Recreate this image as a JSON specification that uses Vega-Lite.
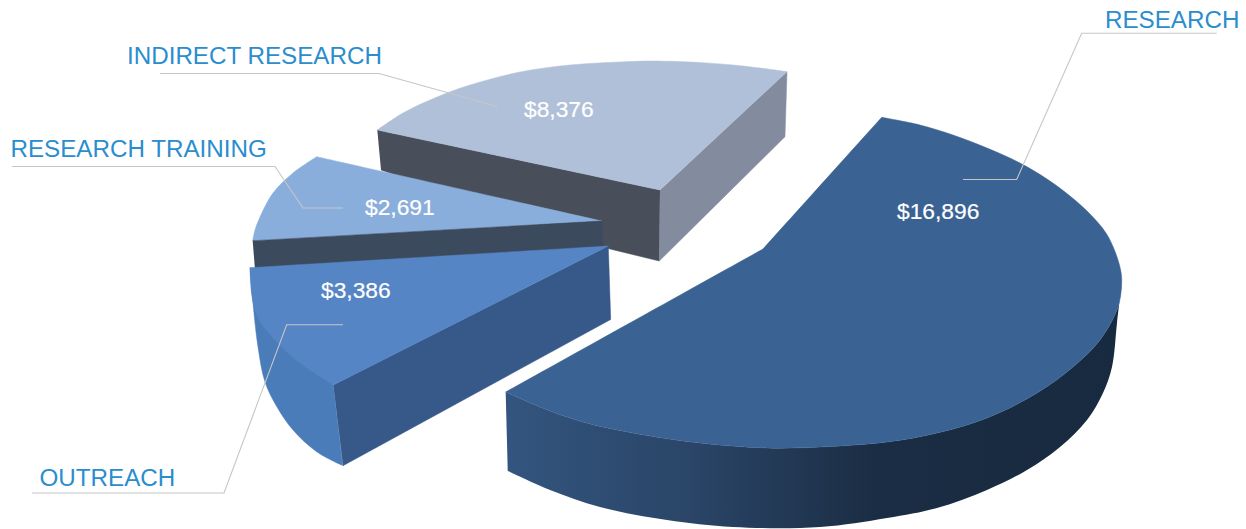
{
"$schema":"https://vega.github.io/schema/vega-lite/v6.json",
"width":1246,"height":529,"padding":0,"autosize":{"type":"fit","contains":"padding"},
"background":"#ffffff","view":{"stroke":null},
"datasets":{
"faces":[
{"face":"indirect-front","i":0,"x":377.3,"y":130},{"face":"indirect-front","i":1,"x":660,"y":190},{"face":"indirect-front","i":2,"x":659.3,"y":261},{"face":"indirect-front","i":3,"x":610,"y":249},{"face":"indirect-front","i":4,"x":381,"y":170},
{"face":"indirect-side","i":0,"x":660,"y":190},{"face":"indirect-side","i":1,"x":787,"y":71.7},{"face":"indirect-side","i":2,"x":785,"y":136.7},{"face":"indirect-side","i":3,"x":659.3,"y":261},
{"face":"indirect-top","i":0,"x":377.3,"y":130},{"face":"indirect-top","i":1,"x":403,"y":113},{"face":"indirect-top","i":2,"x":437,"y":97},{"face":"indirect-top","i":3,"x":470,"y":85},{"face":"indirect-top","i":4,"x":520,"y":72},{"face":"indirect-top","i":5,"x":570,"y":65},{"face":"indirect-top","i":6,"x":620,"y":62},{"face":"indirect-top","i":7,"x":653,"y":61},{"face":"indirect-top","i":8,"x":703,"y":62.7},{"face":"indirect-top","i":9,"x":743,"y":66},{"face":"indirect-top","i":10,"x":787,"y":71.7},{"face":"indirect-top","i":11,"x":787,"y":71.7},{"face":"indirect-top","i":12,"x":660,"y":190},{"face":"indirect-top","i":13,"x":660,"y":190},{"face":"indirect-top","i":14,"x":377.3,"y":130},
{"face":"training-top","i":0,"x":316.7,"y":156.7},{"face":"training-top","i":1,"x":316.7,"y":156.7},{"face":"training-top","i":2,"x":601.7,"y":221},{"face":"training-top","i":3,"x":601.7,"y":221},{"face":"training-top","i":4,"x":252.7,"y":240.7},{"face":"training-top","i":5,"x":252.7,"y":240.7},{"face":"training-top","i":6,"x":255,"y":230},{"face":"training-top","i":7,"x":260,"y":217},{"face":"training-top","i":8,"x":273,"y":193},{"face":"training-top","i":9,"x":293,"y":173},{"face":"training-top","i":10,"x":316.7,"y":156.7},
{"face":"training-front","i":0,"x":252.7,"y":240.7},{"face":"training-front","i":1,"x":601.7,"y":221},{"face":"training-front","i":2,"x":603,"y":249},{"face":"training-front","i":3,"x":255,"y":270},
{"face":"outreach-side","i":0,"x":250,"y":267.7},{"face":"outreach-side","i":1,"x":253,"y":303},{"face":"outreach-side","i":2,"x":258,"y":347},{"face":"outreach-side","i":3,"x":265,"y":382},{"face":"outreach-side","i":4,"x":277,"y":407},{"face":"outreach-side","i":5,"x":293,"y":430},{"face":"outreach-side","i":6,"x":317,"y":452},{"face":"outreach-side","i":7,"x":343,"y":465.7},{"face":"outreach-side","i":8,"x":343,"y":465.7},{"face":"outreach-side","i":9,"x":333.3,"y":385},{"face":"outreach-side","i":10,"x":333.3,"y":385},{"face":"outreach-side","i":11,"x":250,"y":267.7},
{"face":"outreach-front","i":0,"x":333.3,"y":385},{"face":"outreach-front","i":1,"x":608.3,"y":246},{"face":"outreach-front","i":2,"x":610.7,"y":319.5},{"face":"outreach-front","i":3,"x":343,"y":465.7},
{"face":"outreach-top","i":0,"x":250,"y":267.7},{"face":"outreach-top","i":1,"x":250,"y":267.7},{"face":"outreach-top","i":2,"x":608.3,"y":246},{"face":"outreach-top","i":3,"x":608.3,"y":246},{"face":"outreach-top","i":4,"x":333.3,"y":385},{"face":"outreach-top","i":5,"x":333.3,"y":385},{"face":"outreach-top","i":6,"x":307,"y":368},{"face":"outreach-top","i":7,"x":290,"y":355},{"face":"outreach-top","i":8,"x":273,"y":338},{"face":"outreach-top","i":9,"x":258,"y":318},{"face":"outreach-top","i":10,"x":252,"y":296},{"face":"outreach-top","i":11,"x":250,"y":267.7},
{"face":"research-side","i":0,"x":505.7,"y":392},{"face":"research-side","i":1,"x":540,"y":407},{"face":"research-side","i":2,"x":583,"y":422},{"face":"research-side","i":3,"x":633,"y":433},{"face":"research-side","i":4,"x":700,"y":443},{"face":"research-side","i":5,"x":767,"y":448},{"face":"research-side","i":6,"x":820,"y":447},{"face":"research-side","i":7,"x":887,"y":442},{"face":"research-side","i":8,"x":937,"y":433},{"face":"research-side","i":9,"x":987,"y":418},{"face":"research-side","i":10,"x":1037,"y":393},{"face":"research-side","i":11,"x":1073,"y":367},{"face":"research-side","i":12,"x":1100,"y":340},{"face":"research-side","i":13,"x":1118,"y":307},{"face":"research-side","i":14,"x":1121.7,"y":283},{"face":"research-side","i":15,"x":1121.7,"y":283},{"face":"research-side","i":16,"x":1117,"y":323},{"face":"research-side","i":17,"x":1112,"y":367},{"face":"research-side","i":18,"x":1103,"y":393},{"face":"research-side","i":19,"x":1087,"y":420},{"face":"research-side","i":20,"x":1060,"y":447},{"face":"research-side","i":21,"x":1027,"y":470},{"face":"research-side","i":22,"x":987,"y":490},{"face":"research-side","i":23,"x":937,"y":508},{"face":"research-side","i":24,"x":887,"y":518},{"face":"research-side","i":25,"x":820,"y":527},{"face":"research-side","i":26,"x":733,"y":527},{"face":"research-side","i":27,"x":667,"y":520},{"face":"research-side","i":28,"x":600,"y":507},{"face":"research-side","i":29,"x":550,"y":490},{"face":"research-side","i":30,"x":508,"y":471},{"face":"research-side","i":31,"x":508,"y":471},{"face":"research-side","i":32,"x":505.7,"y":392},
{"face":"research-top","i":0,"x":881.7,"y":117.3},{"face":"research-top","i":1,"x":881.7,"y":117.3},{"face":"research-top","i":2,"x":920,"y":125},{"face":"research-top","i":3,"x":953,"y":135},{"face":"research-top","i":4,"x":987,"y":148},{"face":"research-top","i":5,"x":1020,"y":163},{"face":"research-top","i":6,"x":1047,"y":179},{"face":"research-top","i":7,"x":1070,"y":196},{"face":"research-top","i":8,"x":1090,"y":214},{"face":"research-top","i":9,"x":1106,"y":233},{"face":"research-top","i":10,"x":1116,"y":254},{"face":"research-top","i":11,"x":1121,"y":272},{"face":"research-top","i":12,"x":1121.7,"y":283},{"face":"research-top","i":13,"x":1118,"y":307},{"face":"research-top","i":14,"x":1100,"y":340},{"face":"research-top","i":15,"x":1073,"y":367},{"face":"research-top","i":16,"x":1037,"y":393},{"face":"research-top","i":17,"x":987,"y":418},{"face":"research-top","i":18,"x":937,"y":433},{"face":"research-top","i":19,"x":887,"y":442},{"face":"research-top","i":20,"x":820,"y":447},{"face":"research-top","i":21,"x":767,"y":448},{"face":"research-top","i":22,"x":700,"y":443},{"face":"research-top","i":23,"x":633,"y":433},{"face":"research-top","i":24,"x":583,"y":422},{"face":"research-top","i":25,"x":540,"y":407},{"face":"research-top","i":26,"x":505.7,"y":392},{"face":"research-top","i":27,"x":505.7,"y":392},{"face":"research-top","i":28,"x":763,"y":249},{"face":"research-top","i":29,"x":763,"y":249},{"face":"research-top","i":30,"x":881.7,"y":117.3}
],
"leaders":[
{"name":"INDIRECT RESEARCH","i":0,"x":160,"y":73.5},{"name":"INDIRECT RESEARCH","i":1,"x":379,"y":73.5},{"name":"INDIRECT RESEARCH","i":2,"x":498,"y":106.7},
{"name":"RESEARCH TRAINING","i":0,"x":12,"y":166.5},{"name":"RESEARCH TRAINING","i":1,"x":275,"y":166.5},{"name":"RESEARCH TRAINING","i":2,"x":303,"y":208},{"name":"RESEARCH TRAINING","i":3,"x":343,"y":208},
{"name":"OUTREACH","i":0,"x":32,"y":493},{"name":"OUTREACH","i":1,"x":224,"y":493},{"name":"OUTREACH","i":2,"x":286.7,"y":324.7},{"name":"OUTREACH","i":3,"x":343,"y":324.7},
{"name":"RESEARCH","i":0,"x":1216.7,"y":33.3},{"name":"RESEARCH","i":1,"x":1081.7,"y":33.3},{"name":"RESEARCH","i":2,"x":1016.7,"y":179.5},{"name":"RESEARCH","i":3,"x":963,"y":179.5}
],
"slices":[
{"name":"RESEARCH","value":16896,"nameX":1105,"nameY":28,"valueX":897,"valueY":219},
{"name":"INDIRECT RESEARCH","value":8376,"nameX":127,"nameY":64,"valueX":524,"valueY":117},
{"name":"RESEARCH TRAINING","value":2691,"nameX":10.5,"nameY":157,"valueX":365,"valueY":215},
{"name":"OUTREACH","value":3386,"nameX":39.5,"nameY":486,"valueX":321,"valueY":298}
]
},
"data":{"name":"faces"},
"encoding":{
"x":{"field":"x","type":"quantitative","axis":null,"scale":{"domain":[0,1246],"nice":false,"zero":false}},
"y":{"field":"y","type":"quantitative","axis":null,"scale":{"domain":[529,0],"nice":false,"zero":false}},
"order":{"field":"i","type":"quantitative"}
},
"layer":[
{"transform":[{"filter":"datum.face==='indirect-front'"}],"mark":{"type":"line","fill":"#484e5a","stroke":"#484e5a","strokeWidth":0.5}},
{"transform":[{"filter":"datum.face==='indirect-side'"}],"mark":{"type":"line","fill":"#838b9f","stroke":"#838b9f","strokeWidth":0.5}},
{"transform":[{"filter":"datum.face==='indirect-top'"}],"mark":{"type":"line","interpolate":"catmull-rom","fill":"#b1c0d9","stroke":"#b1c0d9","strokeWidth":0.5}},
{"transform":[{"filter":"datum.face==='training-top'"}],"mark":{"type":"line","interpolate":"catmull-rom","fill":"#8aaedb","stroke":"#8aaedb","strokeWidth":0.5}},
{"transform":[{"filter":"datum.face==='training-front'"}],"mark":{"type":"line","fill":"#3c4a5e","stroke":"#3c4a5e","strokeWidth":0.5}},
{"transform":[{"filter":"datum.face==='outreach-side'"}],"mark":{"type":"line","interpolate":"catmull-rom","fill":"#4a7cba","stroke":"#4a7cba","strokeWidth":0.5}},
{"transform":[{"filter":"datum.face==='outreach-front'"}],"mark":{"type":"line","fill":"#37598a","stroke":"#37598a","strokeWidth":0.5}},
{"transform":[{"filter":"datum.face==='outreach-top'"}],"mark":{"type":"line","interpolate":"catmull-rom","fill":"#5585c4","stroke":"#5585c4","strokeWidth":0.5}},
{"transform":[{"filter":"datum.face==='research-side'"}],"mark":{"type":"line","interpolate":"catmull-rom","strokeWidth":0,"fill":{"gradient":"linear","x1":0,"y1":0,"x2":1,"y2":0,"stops":[{"offset":0,"color":"#33557f"},{"offset":0.3,"color":"#2a4567"},{"offset":0.6,"color":"#1b2d44"},{"offset":1,"color":"#172a3f"}]}}},
{"transform":[{"filter":"datum.face==='research-top'"}],"mark":{"type":"line","interpolate":"catmull-rom","fill":"#3a6393","stroke":"#3a6393","strokeWidth":0.5}},
{"data":{"name":"leaders"},"mark":{"type":"line","stroke":"#c6c6c6","strokeWidth":1.1},"encoding":{"detail":{"field":"name"}}},
{"data":{"name":"slices"},"mark":{"type":"text","align":"left","baseline":"alphabetic","font":"Liberation Sans","fontSize":24.2,"fill":"#2a8dce"},
 "encoding":{"x":{"field":"nameX","type":"quantitative"},"y":{"field":"nameY","type":"quantitative"},"text":{"field":"name"},"order":{"value":null}}},
{"data":{"name":"slices"},"mark":{"type":"text","align":"left","baseline":"alphabetic","font":"Liberation Sans","fontSize":22.8,"fill":"#ffffff","stroke":"#ffffff","strokeWidth":0.2},
 "encoding":{"x":{"field":"valueX","type":"quantitative"},"y":{"field":"valueY","type":"quantitative"},"text":{"field":"value","type":"quantitative","format":"$,"},"order":{"value":null}}}
]
}
